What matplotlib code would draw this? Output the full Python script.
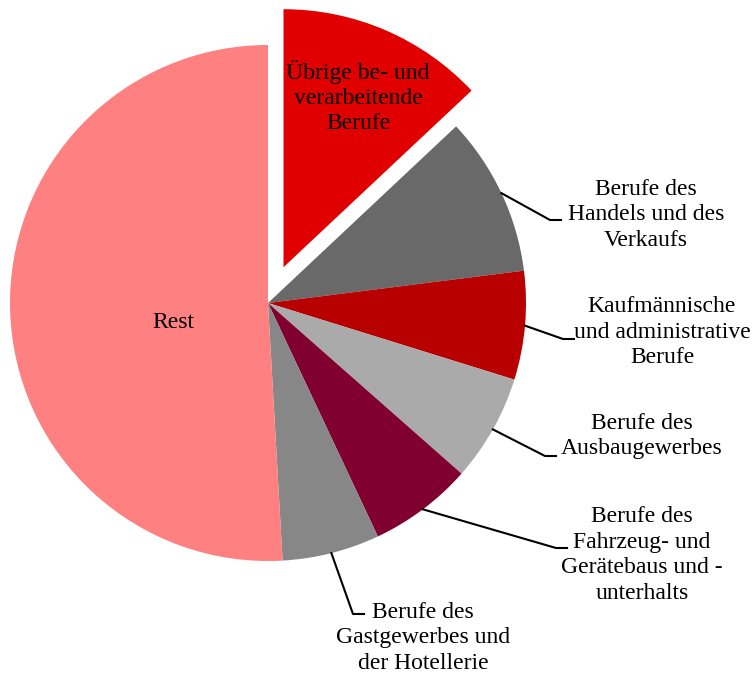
import matplotlib.pyplot as plt
import numpy as np

plt.rcParams['font.family'] = ['Liberation Serif', 'DejaVu Serif']

# Anteile (in %), im Uhrzeigersinn ab 12 Uhr
labels = ['Übrige be- und\nverarbeitende\nBerufe',
          'Berufe des\nHandels und des\nVerkaufs',
          'Kaufmännische\nund administrative\nBerufe',
          'Berufe des\nAusbaugewerbes',
          'Berufe des\nFahrzeug- und\nGerätebaus und -\nunterhalts',
          'Berufe des\nGastgewerbes und\nder Hotellerie',
          'Rest']
values = [13.0, 10.0, 6.8, 6.7, 6.5, 6.1, 50.9]
colors = ['#E00000', '#696969', '#B80000', '#AAAAAA', '#800030', '#878787', '#FF8080']

W, H = 755, 678
fig = plt.figure(figsize=(W/100, H/100), dpi=100)
ax = fig.add_axes([0, 0, 1, 1])

cx, cy, r = 268, H-303, 258
explode = [39, 0, 0, 0, 0, 0, 0]  # in Datenkoordinaten (Pixel)
wedges, _ = ax.pie(values, colors=colors, explode=explode, startangle=90,
                   counterclock=False, radius=r, center=(cx, cy),
                   wedgeprops=dict(linewidth=0), frame=True)
ax.set_xlim(0, W)
ax.set_ylim(0, H)
ax.set_aspect('equal')
ax.axis('off')

fs = 17
ls = 1.28
# Beschriftungen im Kreis
ax.text(358, H-97, labels[0], ha='center', va='center', fontsize=fs, linespacing=ls)
ax.text(173, H-322, labels[6], ha='center', va='center', fontsize=fs)

# Beschriftungen mit Führungslinien: (Knick x, y, Textmitte x, y)
outer = {1: (550, 220, 646, 215),
         2: (563, 339, 662, 332),
         3: (545, 456, 642, 436),
         4: (556, 548, 642, 555),
         5: (353, 614, 423, 638)}
for i, (ex, ey, tx, ty) in outer.items():
    w = wedges[i]
    ang = np.deg2rad((w.theta1 + w.theta2) / 2)
    x0 = cx + r*np.cos(ang)
    y0 = cy + r*np.sin(ang)
    ax.plot([x0, ex, ex+11], [y0, H-ey, H-ey], color='black', lw=1.5)
    ax.text(tx, H-ty, labels[i], ha='center', va='center', fontsize=fs, linespacing=ls)

plt.savefig('out.png', dpi=100)
